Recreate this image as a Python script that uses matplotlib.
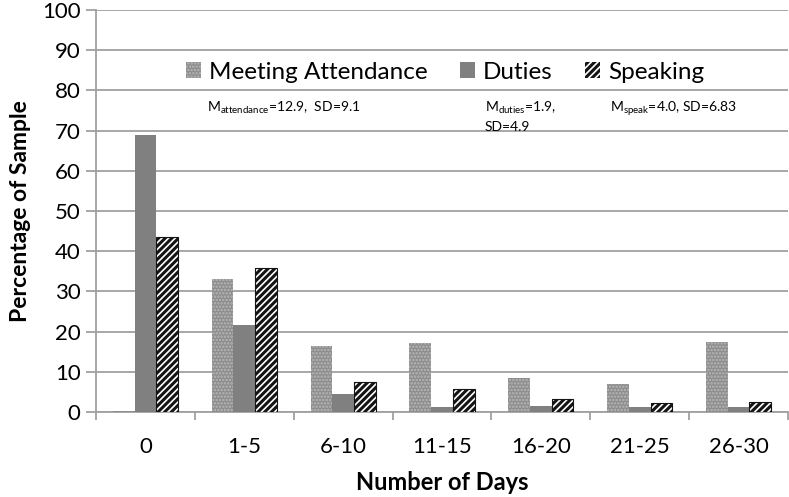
import matplotlib
matplotlib.use("Agg")
import matplotlib.pyplot as plt
import numpy as np

plt.rcParams['font.family'] = ['Lato', 'DejaVu Sans']
plt.rcParams['mathtext.fontset'] = 'custom'
plt.rcParams['mathtext.rm'] = 'Lato'
plt.rcParams['hatch.linewidth'] = 1.2

categories = ['0', '1-5', '6-10', '11-15', '16-20', '21-25', '26-30']
attendance = [0.3, 33.2, 16.4, 17.2, 8.5, 7.0, 17.5]
duties = [69.0, 21.7, 4.6, 1.15, 1.5, 1.15, 1.15]
speaking = [43.5, 35.7, 7.4, 5.7, 3.2, 2.2, 2.4]
series_names = ['Meeting Attendance', 'Duties', 'Speaking']

fig = plt.figure(figsize=(7.89, 4.97), dpi=100)
ax = fig.add_axes([0.1217, 0.171, 0.877, 0.809])

x = np.arange(len(categories))
w = 0.22
grid_c = '#a0a0a0'

ax.bar(x - w, attendance, w, color='#8c8c8c', edgecolor='#b8b8b8', hatch='.....', linewidth=0,
       label=series_names[0], zorder=3)
ax.bar(x, duties, w, color='#808080', linewidth=0, label=series_names[1], zorder=3)
ax.bar(x + w, speaking, w, color='#141414', edgecolor='white', hatch='/////', linewidth=0,
       label=series_names[2], zorder=3)
ax.bar(x + w, speaking, w, fill=False, edgecolor='#141414', linewidth=0.8, zorder=4)

ax.set_xlim(-0.5, len(categories) - 0.5)
ax.set_ylim(0, 100)
ax.set_yticks(np.arange(0, 101, 10))
ax.yaxis.grid(True, color=grid_c, linewidth=1.3, zorder=0)
ax.set_axisbelow(True)

ax.set_xticks(x)
ax.set_xticklabels(categories, fontsize=16)
ax.set_xticks(np.arange(-0.5, len(categories), 1), minor=True)
ax.tick_params(axis='x', which='major', length=0, pad=18)
ax.tick_params(axis='x', which='minor', length=6, color=grid_c, width=1.3)
ax.tick_params(axis='y', labelsize=16, length=7, color=grid_c, width=1.3, pad=4)

for s in ['top', 'right']:
    ax.spines[s].set_visible(False)
for s in ['left', 'bottom']:
    ax.spines[s].set_color(grid_c)
    ax.spines[s].set_linewidth(1.3)

ax.set_xlabel('Number of Days', fontsize=17, fontweight='bold', labelpad=10)
ax.set_ylabel('Percentage of Sample', fontsize=16.5, fontweight='bold', labelpad=8)

ax.legend(loc='center', bbox_to_anchor=(445 / 789, 1 - 72 / 497), bbox_transform=fig.transFigure,
          ncol=3, frameon=False, fontsize=17.5, handlelength=0.62, handleheight=0.62,
          handletextpad=0.35, columnspacing=1.3)

fs = 10
fig.text(207 / 789, 1 - 112 / 497, r'$\mathrm{M}_{\mathrm{attendance}}$=12.9,  SD=9.1', fontsize=fs, va='baseline')
fig.text(485 / 789, 1 - 112 / 497, r'$\mathrm{M}_{\mathrm{duties}}$=1.9,', fontsize=fs, va='baseline')
fig.text(485 / 789, 1 - 131 / 497, 'SD=4.9', fontsize=fs, va='baseline')
fig.text(610 / 789, 1 - 112 / 497, r'$\mathrm{M}_{\mathrm{speak}}$=4.0, SD=6.83', fontsize=fs, va='baseline')

fig.savefig('out.png', dpi=100)
